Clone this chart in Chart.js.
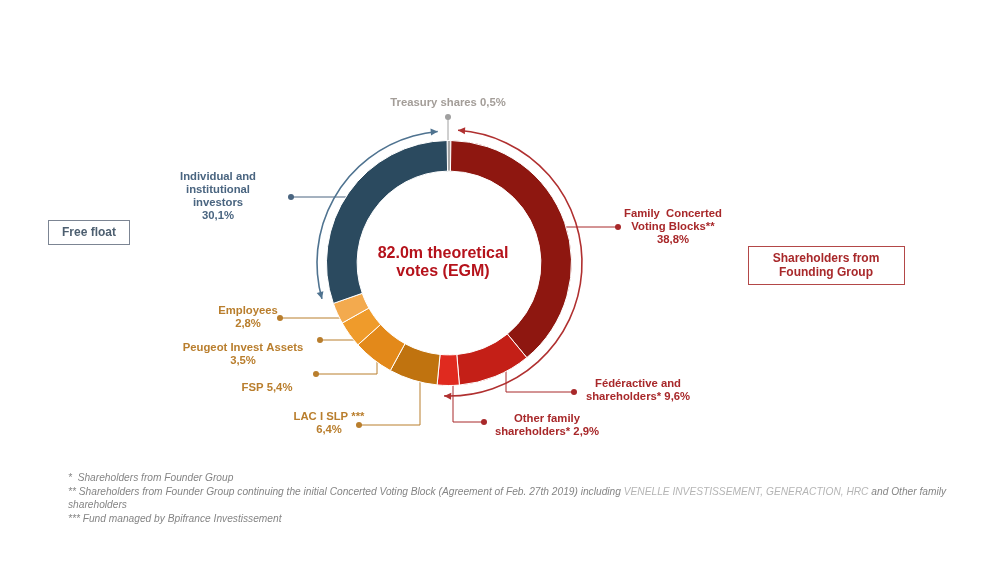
<!DOCTYPE html>
<html>
<head>
    <meta charset="utf-8">
    <title>Theoretical votes (EGM)</title>
    <script src="https://cdn.jsdelivr.net/npm/chart.js"></script>
    <style>
        body { margin: 0; background: #fff; }
    </style>
</head>
<body>
    <canvas id="chart" width="1000" height="563"></canvas>

    <script>
        // Data (clockwise from the top)
        const segmentNames = [
            'Treasury shares',
            'Family Concerted Voting Blocks**',
            'Fédéractive and shareholders*',
            'Other family shareholders*',
            'LAC I SLP ***',
            'FSP',
            'Peugeot Invest Assets',
            'Employees',
            'Individual and institutional investors'
        ];
        const votePercent = [0.5, 38.8, 9.6, 2.9, 6.4, 5.4, 3.5, 2.8, 30.1];
        const centerTitle = ['82.0m theoretical', 'votes (EGM)'];
        const groupBoxes = ['Free float', 'Shareholders from|Founding Group'];

        const segmentColors = ['#a6a6a6', '#8e1710', '#c41f17', '#e02a1f', '#c0730f', '#e3891a', '#ef9b2b', '#f3aa4e', '#2b4a5f'];

        const pct = v => v.toFixed(1).replace('.', ',') + '%';

        // Label text for each slice, with the leader line layout (offsets from the ring centre)
        const BLUE = '#4a6580', RED = '#a8282a', ORANGE = '#b97e2d', GREY = '#a39d98';
        const labelDefs = [
            { lines: ['Treasury shares ' + pct(votePercent[0])], tx: -1, ty: -160, dot: [-1, -146], mode: 'v', color: GREY, dotColor: '#a0a0a0' },
            { lines: ['Family  Concerted', 'Voting Blocks**', pct(votePercent[1])], tx: 224, ty: -49, dot: [169, -36], mode: 'h', color: RED },
            { lines: ['Fédéractive and', 'shareholders* ' + pct(votePercent[2])], tx: 189, ty: 121, dot: [125, 129], mode: 'e', ex: 57, color: RED },
            { lines: ['Other family', 'shareholders* ' + pct(votePercent[3])], tx: 98, ty: 156, dot: [35, 159], mode: 'e', ex: 4, color: RED },
            { lines: ['LAC I SLP ***', pct(votePercent[4])], tx: -120, ty: 154, dot: [-90, 162], mode: 'e', ex: -29, color: ORANGE },
            { lines: ['FSP ' + pct(votePercent[5])], tx: -182, ty: 125, dot: [-133, 111], mode: 'e', ex: -72, color: ORANGE },
            { lines: ['Peugeot Invest Assets', pct(votePercent[6])], tx: -206, ty: 85, dot: [-129, 77], mode: 'h', color: ORANGE },
            { lines: ['Employees', pct(votePercent[7])], tx: -201, ty: 48, dot: [-169, 55], mode: 'h', color: ORANGE },
            { lines: ['Individual and', 'institutional', 'investors', pct(votePercent[8])], tx: -231, ty: -86, dot: [-158, -66], mode: 'h', color: BLUE }
        ];

        function arrowHead(ctx, x, y, dx, dy, color) {
            const len = 7, half = 3.5;
            ctx.fillStyle = color;
            ctx.beginPath();
            ctx.moveTo(x, y);
            ctx.lineTo(x - dx * len - dy * half, y - dy * len + dx * half);
            ctx.lineTo(x - dx * len + dy * half, y - dy * len - dx * half);
            ctx.closePath();
            ctx.fill();
        }

        // Double-headed arc round the ring
        function groupArc(ctx, cx, cy, r, a0, a1, color) {
            ctx.strokeStyle = color;
            ctx.lineWidth = 1.6;
            ctx.beginPath();
            ctx.arc(cx, cy, r, a0, a1);
            ctx.stroke();
            const ex = cx + r * Math.cos(a1), ey = cy + r * Math.sin(a1);
            arrowHead(ctx, ex, ey, -Math.sin(a1), Math.cos(a1), color);
            const sx = cx + r * Math.cos(a0), sy = cy + r * Math.sin(a0);
            arrowHead(ctx, sx, sy, Math.sin(a0), -Math.cos(a0), color);
        }

        const annotations = {
            id: 'annotations',
            beforeDatasetsDraw(chart) {
                // leader lines go behind the slices
                const ctx = chart.ctx;
                const arc0 = chart.getDatasetMeta(0).data[0];
                const cx = arc0.x, cy = arc0.y;
                const rMid = (arc0.innerRadius + arc0.outerRadius) / 2;
                ctx.save();
                ctx.lineWidth = 1;
                labelDefs.forEach(d => {
                    const px = cx + d.dot[0], py = cy + d.dot[1];
                    ctx.strokeStyle = d.dotColor || d.color;
                    ctx.beginPath();
                    ctx.moveTo(px, py);
                    if (d.mode === 'v') {
                        ctx.lineTo(px, cy - rMid);
                    } else if (d.mode === 'h') {
                        const dy = d.dot[1];
                        const dx = Math.sqrt(Math.max(rMid * rMid - dy * dy, 0));
                        ctx.lineTo(cx + Math.sign(d.dot[0]) * dx, py);
                    } else {
                        const dx = d.ex;
                        const dy = Math.sqrt(Math.max(rMid * rMid - dx * dx, 0));
                        ctx.lineTo(cx + dx, py);
                        ctx.lineTo(cx + dx, cy + dy);
                    }
                    ctx.stroke();
                });
                ctx.restore();
            },
            afterDraw(chart) {
                const ctx = chart.ctx;
                const meta = chart.getDatasetMeta(0);
                const arc0 = meta.data[0];
                const cx = arc0.x, cy = arc0.y;
                const deg = Math.PI / 180;
                ctx.save();

                // group arcs
                const indiv = meta.data[8], family = meta.data[1], other = meta.data[3];
                groupArc(ctx, cx, cy, 132, indiv.startAngle + 3.5 * deg, indiv.endAngle - 4 * deg, '#4f7390');
                groupArc(ctx, cx, cy, 133, family.startAngle + 3 * deg, other.endAngle - 3.5 * deg, '#b03030');

                // dots and labels
                ctx.textAlign = 'center';
                ctx.textBaseline = 'middle';
                labelDefs.forEach(d => {
                    ctx.fillStyle = d.dotColor || d.color;
                    ctx.beginPath();
                    ctx.arc(cx + d.dot[0], cy + d.dot[1], 3, 0, 2 * Math.PI);
                    ctx.fill();
                    ctx.fillStyle = d.color;
                    ctx.font = 'bold 11.3px "Liberation Sans", Arial, sans-serif';
                    d.lines.forEach((t, i) => ctx.fillText(t, cx + d.tx, cy + d.ty + i * 13));
                });

                // centre title
                ctx.fillStyle = '#b5121b';
                ctx.font = 'bold 16px "Liberation Sans", Arial, sans-serif';
                centerTitle.forEach((t, i) => ctx.fillText(t, cx - 6, cy - 9 + i * 18));

                // group boxes
                ctx.lineWidth = 1;
                ctx.font = 'bold 12px "Liberation Sans", Arial, sans-serif';
                ctx.strokeStyle = '#7c8593';
                ctx.strokeRect(48.5, 220.5, 81, 24);
                ctx.fillStyle = '#4d5f70';
                ctx.fillText(groupBoxes[0], 89, 233);
                ctx.strokeStyle = '#b34848';
                ctx.strokeRect(748.5, 246.5, 156, 38);
                ctx.fillStyle = '#a8282a';
                groupBoxes[1].split('|').forEach((t, i) => ctx.fillText(t, 826, 259 + i * 14));

                // footnotes
                ctx.textAlign = 'left';
                ctx.font = 'italic 10.2px "Liberation Sans", Arial, sans-serif';
                ctx.fillStyle = '#858585';
                ctx.fillText('*  Shareholders from Founder Group', 68, 478);
                const parts = [
                    ['** Shareholders from Founder Group continuing the initial Concerted Voting Block (Agreement of Feb. 27th 2019) including ', '#858585'],
                    ['VENELLE INVESTISSEMENT, GENERACTION, HRC', '#b5b5b5'],
                    [' and Other family', '#858585']
                ];
                let x = 68;
                parts.forEach(p => {
                    ctx.fillStyle = p[1];
                    ctx.fillText(p[0], x, 492);
                    x += ctx.measureText(p[0]).width;
                });
                ctx.fillStyle = '#858585';
                ctx.fillText('shareholders', 68, 505);
                ctx.fillText('*** Fund managed by Bpifrance Investissement', 68, 519);
                ctx.restore();
            }
        };

        new Chart(document.getElementById('chart').getContext('2d'), {
            type: 'doughnut',
            data: {
                labels: segmentNames,
                datasets: [{
                    data: votePercent,
                    backgroundColor: segmentColors,
                    borderColor: '#ffffff',
                    borderWidth: 1
                }]
            },
            options: {
                responsive: false,
                animation: false,
                cutout: '75%',
                rotation: -0.9,
                layout: { padding: { left: 326, right: 428, top: 140, bottom: 177 } },
                plugins: {
                    legend: { display: false },
                    tooltip: { enabled: false }
                }
            },
            plugins: [annotations]
        });
    </script>
</body>
</html>
